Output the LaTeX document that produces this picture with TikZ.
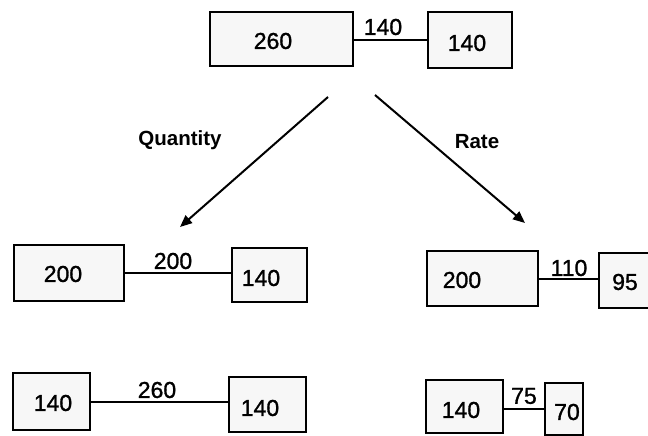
\documentclass[tikz,border=0pt]{standalone}
\usepackage{fontspec}
\setmainfont{Liberation Sans}
\newfontfamily\numfont[FakeBold=1.2]{Liberation Sans}
\usetikzlibrary{arrows.meta}
\begin{document}
\begin{tikzpicture}[x=1pt,y=-1pt,
  valbox/.style={draw=black,line width=2.2pt,fill=gray!6,rectangle,inner sep=0pt},
  num/.style={font=\numfont\fontsize{23}{25}\selectfont,inner sep=0pt},
  tag/.style={font=\bfseries\fontsize{20.5}{22}\selectfont,inner sep=0pt},
  link/.style={line width=1.6pt},
  split/.style={line width=2pt,-{Triangle[length=12pt,width=10pt]}}]
\useasboundingbox (0,0) rectangle (648,436);
\begin{scope}
\clip (0,0) rectangle (648,436);
% top pair
\node[valbox,minimum width=143pt,minimum height=54pt] (A) at (281.5,39) {};
\node[valbox,minimum width=84pt,minimum height=56pt] (B) at (470,40) {};
\node[num] (tA) at (273,41) {260};
\node[num] (tB) at (467,43) {140};
\draw[link] (A.east |- 0,40) -- (B.west |- 0,40);
\node[num] (lAB) at (383,27) {140};
% quantity branch, first step
\node[valbox,minimum width=110pt,minimum height=56pt] (C) at (69,273) {};
\node[valbox,minimum width=75pt,minimum height=54pt] (D) at (269.5,275) {};
\node[num] (tC) at (63,274) {200};
\node[num] (tD) at (261,278) {140};
\draw[link] (C.east |- 0,273) -- (D.west |- 0,273);
\node[num] (lCD) at (173,261) {200};
% rate branch, first step
\node[valbox,minimum width=111pt,minimum height=55pt] (E) at (482.5,278.5) {};
\node[valbox,minimum width=61pt,minimum height=55pt] (F) at (629.5,280.5) {};
\node[num] (tE) at (462,280) {200};
\node[num] (tF) at (625,282) {95};
\draw[link] (E.east |- 0,279) -- (F.west |- 0,279);
\node[num] (lEF) at (569,268) {110};
% quantity branch, second step
\node[valbox,minimum width=77pt,minimum height=57pt] (G) at (51.5,401.5) {};
\node[valbox,minimum width=77pt,minimum height=55pt] (H) at (267.5,404.5) {};
\node[num] (tG) at (53,403) {140};
\node[num] (tH) at (260,408) {140};
\draw[link] (G.east |- 0,402) -- (H.west |- 0,402);
\node[num] (lGH) at (157,390) {260};
% rate branch, second step
\node[valbox,minimum width=77pt,minimum height=53pt] (I) at (464.5,406.5) {};
\node[valbox,minimum width=38pt,minimum height=52pt] (J) at (564,409) {};
\node[num] (tI) at (461,410) {140};
\node[num] (tJ) at (567,412) {70};
\draw[link] (I.east |- 0,409) -- (J.west |- 0,409);
\node[num] (lIJ) at (524,396) {75};
\end{scope}
% the two ways of splitting
\coordinate (qs) at (328,97);
\coordinate (qe) at (180,227);
\coordinate (rs) at (375,95);
\coordinate (re) at (525,223);
\draw[split] (qs) -- (qe);
\draw[split] (rs) -- (re);
\node[tag] (quant) at (180,140) {Quantity};
\node[tag] (rate) at (477,142) {Rate};
\end{tikzpicture}
\end{document}
